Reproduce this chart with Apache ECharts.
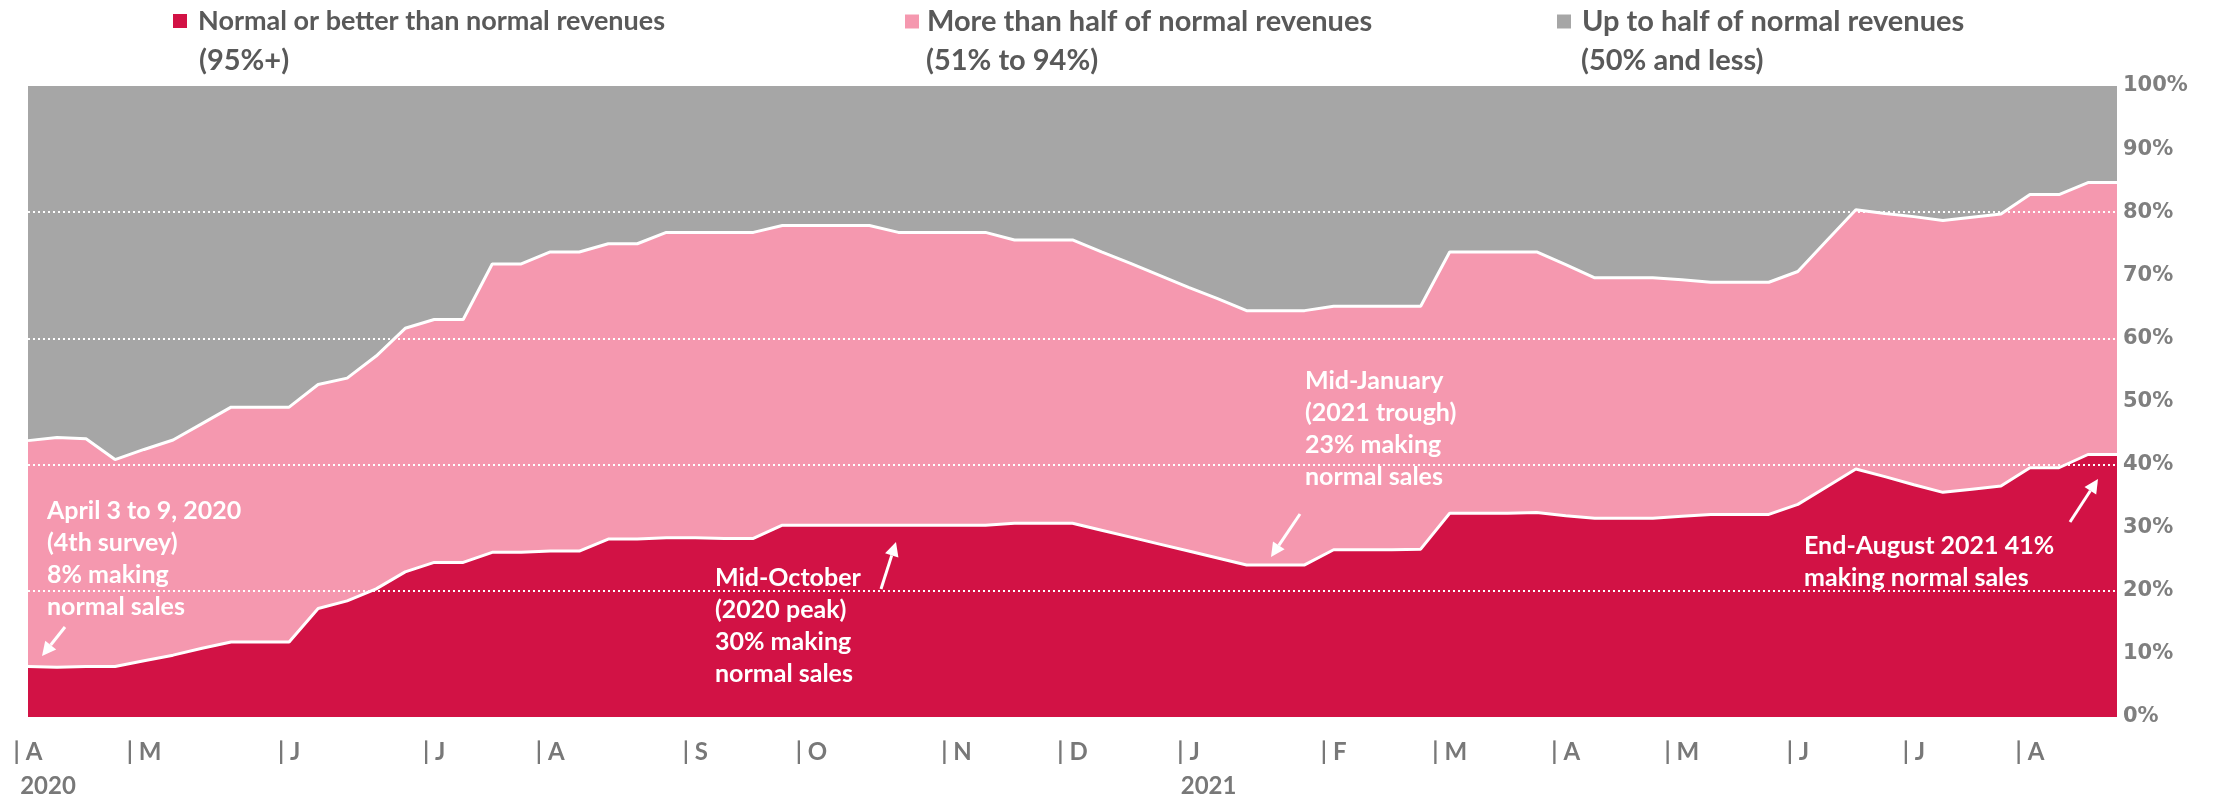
<!DOCTYPE html>
<html><head><meta charset="utf-8">
<script src="https://cdn.jsdelivr.net/npm/echarts@6/dist/echarts.min.js"></script>
<style>html,body{margin:0;padding:0;background:#fff}#c{width:2228px;height:796px}</style>
</head><body><div id="c"></div>
<script>
// Survey waves (weekly categories)
const weeks = ['W1','W2','W3','W4','W5','W6','W7','W8','W9','W10','W11','W12','W13','W14','W15','W16','W17','W18','W19','W20',
 'W21','W22','W23','W24','W25','W26','W27','W28','W29','W30','W31','W32','W33','W34','W35','W36','W37','W38','W39','W40',
 'W41','W42','W43','W44','W45','W46','W47','W48','W49','W50','W51','W52','W53','W54','W55','W56','W57','W58','W59','W60',
 'W61','W62','W63','W64','W65','W66','W67','W68','W69','W70','W71','W72','W73'];
// Month tick labels (index of category -> label)
const tickIndex  = [0, 4, 9, 14, 18, 23, 27, 32, 36, 40, 45, 49, 53, 57, 61, 65, 69];
const tickLabels = ['| A','| M','| J','| J','| A','| S','| O','| N','| D','| J','| F','| M','| A','| M','| J','| J','| A'];
const yearIndex  = [0, 40];
const yearLabels = ['2020', '2021'];

const seriesNames = ['Normal or better than normal revenues', 'More than half of normal revenues', 'Up to half of normal revenues'];
const seriesSub   = ['(95%+)', '(51% to 94%)', '(50% and less)'];

// Share of businesses (%)
const normal = [8.0, 7.9, 8.0, 8.0, 8.9, 9.8, 10.9, 11.9, 11.9, 11.9,
 17.2, 18.4, 20.3, 23.0, 24.5, 24.5, 26.1, 26.1, 26.3, 26.3,
 28.2, 28.2, 28.4, 28.4, 28.3, 28.3, 30.4, 30.4, 30.4, 30.4,
 30.4, 30.4, 30.4, 30.4, 30.7, 30.7, 30.7, 29.6, 28.5, 27.4,
 26.3, 25.2, 24.1, 24.1, 24.1, 26.5, 26.5, 26.5, 26.6, 32.3,
 32.3, 32.3, 32.4, 31.9, 31.5, 31.5, 31.5, 31.8, 32.1, 32.1,
 32.1, 33.7, 36.5, 39.3, 38.1, 36.8, 35.6, 36.1, 36.6, 39.5,
 39.5, 41.6, 41.6];
const moreThanHalf = [35.8, 36.4, 36.1, 32.8, 33.5, 34.1, 35.6, 37.2, 37.2, 37.2,
 35.5, 35.3, 36.9, 38.6, 38.5, 38.5, 45.7, 45.7, 47.4, 47.4,
 46.8, 46.8, 48.4, 48.4, 48.5, 48.5, 47.5, 47.5, 47.5, 47.5,
 46.4, 46.4, 46.4, 46.4, 44.9, 44.9, 44.9, 44.1, 43.4, 42.6,
 41.8, 41.1, 40.3, 40.3, 40.3, 38.6, 38.6, 38.6, 38.5, 41.4,
 41.4, 41.4, 41.3, 39.8, 38.1, 38.1, 38.1, 37.5, 36.8, 36.8,
 36.8, 36.9, 39.0, 41.1, 41.7, 42.5, 43.1, 43.1, 43.1, 43.3,
 43.3, 43.1, 43.1];
const upToHalf = [56.2, 55.7, 55.9, 59.2, 57.6, 56.1, 53.5, 50.9, 50.9, 50.9,
 47.3, 46.3, 42.8, 38.4, 37.0, 37.0, 28.2, 28.2, 26.3, 26.3,
 25.0, 25.0, 23.2, 23.2, 23.2, 23.2, 22.1, 22.1, 22.1, 22.1,
 23.2, 23.2, 23.2, 23.2, 24.4, 24.4, 24.4, 26.3, 28.1, 30.0,
 31.9, 33.7, 35.6, 35.6, 35.6, 34.9, 34.9, 34.9, 34.9, 26.3,
 26.3, 26.3, 26.3, 28.3, 30.4, 30.4, 30.4, 30.7, 31.1, 31.1,
 31.1, 29.4, 24.5, 19.6, 20.2, 20.7, 21.3, 20.8, 20.3, 17.2,
 17.2, 15.3, 15.3];

const colors = ['#D21245', '#F598AF', '#A6A6A6'];
const LEGEND_FONT = 'Lato';
const NOTE_FONT = 'bold 25px Lato';

const chart = echarts.init(document.getElementById('c'), null, {renderer: 'canvas'});

function arrow(x1, y1, x2, y2) {
  const dx = x2 - x1, dy = y2 - y1, L = Math.hypot(dx, dy);
  const ux = dx / L, uy = dy / L, hl = 14, hw = 7;
  const bx = x2 - ux * hl, by = y2 - uy * hl;
  return [
    {type: 'line', z: 100, shape: {x1: x1, y1: y1, x2: bx, y2: by}, style: {stroke: '#fff', lineWidth: 3}},
    {type: 'polygon', z: 100, shape: {points: [[x2, y2], [bx - uy * hw, by + ux * hw], [bx + uy * hw, by - ux * hw]]}, style: {fill: '#fff'}}
  ];
}
function note(x, y, text, lh) {
  return {type: 'text', z: 100, x: x, y: y, style: {text: text, font: NOTE_FONT, fill: '#fff', lineHeight: lh || 32, align: 'left', verticalAlign: 'top'}};
}

const legendLeft = [173, 905, 1557];
const textLeft = [199, 926, 1581];
const legendSize = [27, 29, 29];
const legendPad = [6, 3, 6];

const graphics = [];
seriesSub.forEach((s, i) => graphics.push({type: 'text', x: textLeft[i], y: 61,
  style: {text: s, font: 'bold 29px ' + LEGEND_FONT, fill: '#595959', align: 'left', verticalAlign: 'middle'}}));
graphics.push(note(47, 495, 'April 3 to 9, 2020\n(4th survey)\n8% making\nnormal sales'));
graphics.push(note(715, 562, 'Mid-October\n(2020 peak)\n30% making\nnormal sales'));
graphics.push(note(1305, 365, 'Mid-January\n(2021 trough)\n23% making\nnormal sales'));
graphics.push(note(1804, 530, 'End-August 2021 41%\nmaking normal sales'));
graphics.push(...arrow(65, 627, 42, 656));
graphics.push(...arrow(881, 589, 896, 542));
graphics.push(...arrow(1300, 514, 1271, 557));
graphics.push(...arrow(2070, 522, 2098, 479));

const legends = seriesNames.map((n, i) => ({
  data: [n], left: legendLeft[i], top: 7, padding: 0, icon: 'rect', itemWidth: 14, itemHeight: 14,
  selectedMode: false,
  textStyle: {fontFamily: LEGEND_FONT, fontWeight: 'bold', fontSize: legendSize[i], lineHeight: 28, color: '#595959', padding: [0, 0, 0, legendPad[i]]}
}));

const dataSets = [normal, moreThanHalf, upToHalf];
const zs = [5, 4, 3];

chart.setOption({
  animation: false,
  backgroundColor: '#fff',
  color: colors,
  legend: legends,
  grid: {left: 28, right: 111, top: 86, bottom: 79, containLabel: false, outerBoundsMode: 'none'},
  xAxis: {
    type: 'category', data: weeks, boundaryGap: false,
    axisLine: {show: false}, axisTick: {show: false}, splitLine: {show: false},
    axisLabel: {
      interval: 0, margin: 18, hideOverlap: false,
      formatter: (v, idx) => {
        const k = tickIndex.indexOf(idx);
        if (k < 0) return '';
        const y = yearIndex.indexOf(idx);
        return y < 0 ? '{m|' + tickLabels[k] + '}' : '{m|' + tickLabels[k] + '}\n{y|' + yearLabels[y] + '}';
      },
      rich: {
        m: {fontFamily: 'Lato', fontWeight: 'bold', fontSize: 24, lineHeight: 34, color: '#787878'},
        y: {fontFamily: 'Lato', fontWeight: 'bold', fontSize: 24, lineHeight: 34, color: '#787878', padding: [0, 0, 0, 40]}
      }
    }
  },
  yAxis: [{
    type: 'value', position: 'right', min: 0, max: 100, interval: 10,
    axisLine: {show: false}, axisTick: {show: false}, splitLine: {show: false},
    axisLabel: {margin: 6, formatter: '{value}%', fontFamily: 'DejaVu Sans', fontWeight: 'bold', fontSize: 21, color: '#7F7F7F'}
  }, {
    type: 'value', position: 'right', min: 0, max: 100, interval: 20, z: 10,
    axisLine: {show: false}, axisTick: {show: false}, axisLabel: {show: false},
    splitLine: {show: true, showMinLine: false, showMaxLine: false, lineStyle: {color: '#fff', width: 2, type: [2, 3]}}
  }],
  series: dataSets.map((d, i) => ({
    name: seriesNames[i], type: 'line', stack: 'total', data: d, z: zs[i],
    symbol: 'none', showSymbol: false, smooth: false,
    lineStyle: {color: '#fff', width: i < 2 ? 3 : 0},
    itemStyle: {color: colors[i]},
    areaStyle: {color: colors[i], opacity: 1}
  })),
  graphic: graphics
});
</script></body></html>
